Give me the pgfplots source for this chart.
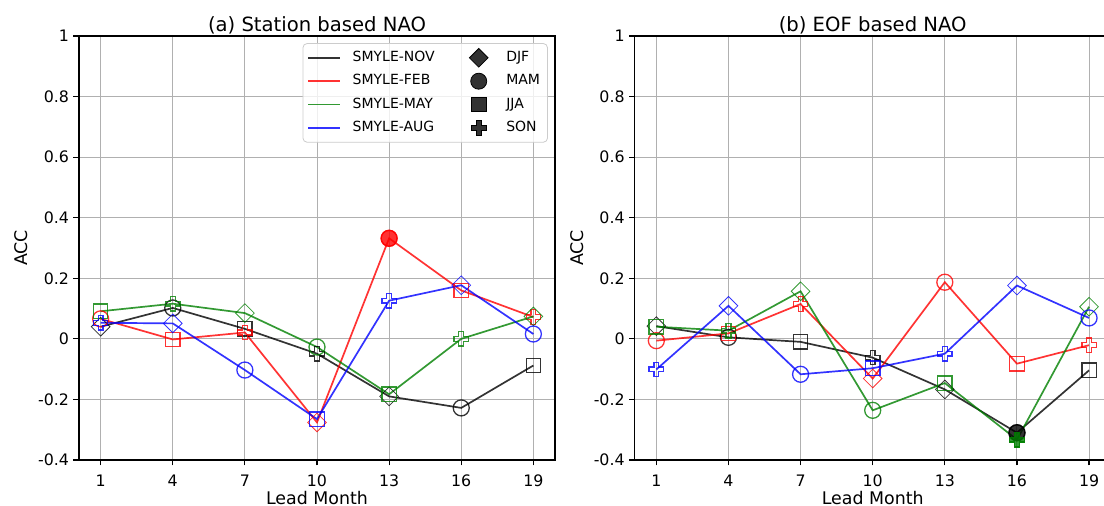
\documentclass[border=0pt]{standalone}
\usepackage{fontspec}
\setmainfont{DejaVu Sans}
\usepackage{pgfplots}
\pgfplotsset{compat=1.18}
\usepackage{pgfplotstable}

\definecolor{mk}{HTML}{000000}
\definecolor{mr}{HTML}{FF0000}
\definecolor{mg}{HTML}{008000}
\definecolor{mb}{HTML}{0000FF}

% matplotlib 'P' marker (thick plus), open and filled
\pgfdeclareplotmark{fplus}{%
  \pgfpathmoveto{\pgfqpoint{-0.3333\pgfplotmarksize}{-\pgfplotmarksize}}%
  \pgfpathlineto{\pgfqpoint{-0.3333\pgfplotmarksize}{-0.3333\pgfplotmarksize}}%
  \pgfpathlineto{\pgfqpoint{-\pgfplotmarksize}{-0.3333\pgfplotmarksize}}%
  \pgfpathlineto{\pgfqpoint{-\pgfplotmarksize}{0.3333\pgfplotmarksize}}%
  \pgfpathlineto{\pgfqpoint{-0.3333\pgfplotmarksize}{0.3333\pgfplotmarksize}}%
  \pgfpathlineto{\pgfqpoint{-0.3333\pgfplotmarksize}{\pgfplotmarksize}}%
  \pgfpathlineto{\pgfqpoint{0.3333\pgfplotmarksize}{\pgfplotmarksize}}%
  \pgfpathlineto{\pgfqpoint{0.3333\pgfplotmarksize}{0.3333\pgfplotmarksize}}%
  \pgfpathlineto{\pgfqpoint{\pgfplotmarksize}{0.3333\pgfplotmarksize}}%
  \pgfpathlineto{\pgfqpoint{\pgfplotmarksize}{-0.3333\pgfplotmarksize}}%
  \pgfpathlineto{\pgfqpoint{0.3333\pgfplotmarksize}{-0.3333\pgfplotmarksize}}%
  \pgfpathlineto{\pgfqpoint{0.3333\pgfplotmarksize}{-\pgfplotmarksize}}%
  \pgfpathclose
  \pgfusepathqstroke}
\pgfdeclareplotmark{fplus*}{%
  \pgfpathmoveto{\pgfqpoint{-0.3333\pgfplotmarksize}{-\pgfplotmarksize}}%
  \pgfpathlineto{\pgfqpoint{-0.3333\pgfplotmarksize}{-0.3333\pgfplotmarksize}}%
  \pgfpathlineto{\pgfqpoint{-\pgfplotmarksize}{-0.3333\pgfplotmarksize}}%
  \pgfpathlineto{\pgfqpoint{-\pgfplotmarksize}{0.3333\pgfplotmarksize}}%
  \pgfpathlineto{\pgfqpoint{-0.3333\pgfplotmarksize}{0.3333\pgfplotmarksize}}%
  \pgfpathlineto{\pgfqpoint{-0.3333\pgfplotmarksize}{\pgfplotmarksize}}%
  \pgfpathlineto{\pgfqpoint{0.3333\pgfplotmarksize}{\pgfplotmarksize}}%
  \pgfpathlineto{\pgfqpoint{0.3333\pgfplotmarksize}{0.3333\pgfplotmarksize}}%
  \pgfpathlineto{\pgfqpoint{\pgfplotmarksize}{0.3333\pgfplotmarksize}}%
  \pgfpathlineto{\pgfqpoint{\pgfplotmarksize}{-0.3333\pgfplotmarksize}}%
  \pgfpathlineto{\pgfqpoint{0.3333\pgfplotmarksize}{-0.3333\pgfplotmarksize}}%
  \pgfpathlineto{\pgfqpoint{0.3333\pgfplotmarksize}{-\pgfplotmarksize}}%
  \pgfpathclose
  \pgfusepathqfillstroke}

\pgfplotsset{
  nao/.style={
    width=238pt, height=212pt, scale only axis,
    xmin=0.1, xmax=19.9, ymin=-0.4, ymax=1,
    xtick={1,4,7,10,13,16,19}, xticklabels={1,4,7,10,13,16,19},
    ytick={-0.4,-0.2,0,0.2,0.4,0.6,0.8,1},
    yticklabels={-0.4,-0.2,0,0.2,0.4,0.6,0.8,1},
    grid=major, grid style={black!31, line width=0.5pt},
    axis line style={line width=0.6pt},
    tick style={black, line width=0.6pt},
    tick align=outside, major tick length=2.75pt, tick pos=left,
    tick label style={font=\fontsize{7.9}{9}\selectfont, inner sep=0pt},
    yticklabel style={anchor=east, xshift=-2.1pt},
    xticklabel style={anchor=base, yshift=-10.4pt},
    every axis title/.style={at={(axis description cs:0.5,1.0102)}, anchor=base,
      font=\fontsize{9.8}{11}\selectfont},
    xlabel style={at={(axis description cs:0.5,-0.1038)}, anchor=base,
      font=\fontsize{8.7}{10}\selectfont, inner sep=0pt},
    ylabel style={at={(axis description cs:-0.108,0.5)}, anchor=base,
      font=\fontsize{8.7}{10}\selectfont, inner sep=0pt},
    xlabel={Lead Month}, ylabel={ACC},
  },
  sline/.style={line width=0.85pt, opacity=0.8, mark=none},
  smark/.style={only marks, opacity=0.8, mark options={line width=0.65pt}},
  mdjf/.style={mark=square, mark size=3.3pt, mark options={rotate=45}},
  mdjf*/.style={mark=square*, mark size=3.3pt, mark options={rotate=45}},
  mmam/.style={mark=o, mark size=4pt},
  mmam*/.style={mark=*, mark size=4pt},
  mjja/.style={mark=square, mark size=3.6pt},
  mjja*/.style={mark=square*, mark size=3.6pt},
  mson/.style={mark=fplus, mark size=3.6pt},
  mson*/.style={mark=fplus*, mark size=3.6pt},
  lgline/.style={legend image code/.code={\draw[##1] (0pt,0pt) -- (16pt,0pt);}},
  lgmark/.style={legend image code/.code={%
    \path[draw=none] (0pt,-1pt) (16pt,1pt);
    \draw[mark repeat=2, mark phase=2, ##1] plot coordinates {(0pt,0pt) (8pt,0pt) (16pt,0pt)};}},
}

% table, colour, point indices for DJF, MAM, JJA, SON
\newcommand{\series}[6]{%
  \addplot[#2, sline] table[x=lead, y=acc] {#1};
  \addplot[#2, smark, mdjf, mark indices={#3}] table[x=lead, y=acc] {#1};
  \addplot[#2, smark, mmam, mark indices={#4}] table[x=lead, y=acc] {#1};
  \addplot[#2, smark, mjja, mark indices={#5}] table[x=lead, y=acc] {#1};
  \addplot[#2, smark, mson, mark indices={#6}] table[x=lead, y=acc] {#1};
}

% ---- (a) station based NAO
\pgfplotstableread{
lead acc
1  0.040
4  0.102
7  0.033
10 -0.049
13 -0.190
16 -0.228
19 -0.088
}\aNOV
\pgfplotstableread{
lead acc
1  0.066
4  -0.002
7  0.021
10 -0.276
13 0.332
16 0.160
19 0.072
}\aFEB
\pgfplotstableread{
lead acc
1  0.091
4  0.116
7  0.085
10 -0.027
13 -0.183
16 0.000
19 0.074
}\aMAY
\pgfplotstableread{
lead acc
1  0.053
4  0.051
7  -0.103
10 -0.265
13 0.126
16 0.177
19 0.016
}\aAUG

% ---- (b) EOF based NAO
\pgfplotstableread{
lead acc
1  0.042
4  0.005
7  -0.010
10 -0.062
13 -0.167
16 -0.310
19 -0.104
}\bNOV
\pgfplotstableread{
lead acc
1  -0.006
4  0.018
7  0.115
10 -0.131
13 0.187
16 -0.082
19 -0.021
}\bFEB
\pgfplotstableread{
lead acc
1  0.040
4  0.027
7  0.157
10 -0.236
13 -0.146
16 -0.333
19 0.106
}\bMAY
\pgfplotstableread{
lead acc
1  -0.101
4  0.109
7  -0.117
10 -0.097
13 -0.049
16 0.176
19 0.069
}\bAUG

\begin{document}
\begin{tikzpicture}

\begin{axis}[nao, at={(39.5pt,23pt)}, anchor=south west,
  title={(a) Station based NAO},
  legend columns=2, legend cell align=left,
  legend style={at={(axis description cs:0.985,0.983)}, anchor=north east,
    draw=black!20, fill=white, fill opacity=0.8, text opacity=1,
    rounded corners=2pt, inner xsep=2.2pt, inner ysep=2.3pt, row sep=2.1pt,
    font=\fontsize{7}{8}\selectfont,
    nodes={inner sep=1.5pt, text height=5.2pt, text depth=1.4pt},
    /tikz/every odd column/.append style={column sep=4.3pt},
    /tikz/every even column/.append style={column sep=12.5pt}},
]
  \addlegendimage{mk, sline, lgline}\addlegendentry{SMYLE-NOV}
  \addlegendimage{only marks, mk, mdjf*, lgmark}\addlegendentry{DJF}
  \addlegendimage{mr, sline, lgline}\addlegendentry{SMYLE-FEB}
  \addlegendimage{only marks, mk, mmam*, lgmark}\addlegendentry{MAM}
  \addlegendimage{mg, sline, lgline}\addlegendentry{SMYLE-MAY}
  \addlegendimage{only marks, mk, mjja*, lgmark}\addlegendentry{JJA}
  \addlegendimage{mb, sline, lgline}\addlegendentry{SMYLE-AUG}
  \addlegendimage{only marks, mk, mson*, lgmark}\addlegendentry{SON}

  \series{\aNOV}{mk}{1,5}{2,6}{3,7}{4}
  \series{\aFEB}{mr}{4}{1,5}{2,6}{3,7}
  \series{\aMAY}{mg}{3,7}{4}{1,5}{2,6}
  \series{\aAUG}{mb}{2,6}{3,7}{4}{1,5}
  % significant point
  \addplot[mr, smark, mmam*, mark indices={5}] table[x=lead, y=acc] {\aFEB};
\end{axis}

\begin{axis}[nao, at={(317.35pt,23pt)}, anchor=south west,
  title={(b) EOF based NAO}]
  \series{\bNOV}{mk}{1,5}{2,6}{3,7}{4}
  \series{\bFEB}{mr}{4}{1,5}{2,6}{3,7}
  \series{\bMAY}{mg}{3,7}{4}{1,5}{2,6}
  \series{\bAUG}{mb}{2,6}{3,7}{4}{1,5}
  % significant points
  \addplot[mk, smark, mmam*, mark indices={6}] table[x=lead, y=acc] {\bNOV};
  \addplot[mg, smark, mson*, mark indices={6}] table[x=lead, y=acc] {\bMAY};
\end{axis}

\pgfresetboundingbox
\path[use as bounding box] (0pt,0pt) rectangle (552pt,253pt);
\end{tikzpicture}
\end{document}
